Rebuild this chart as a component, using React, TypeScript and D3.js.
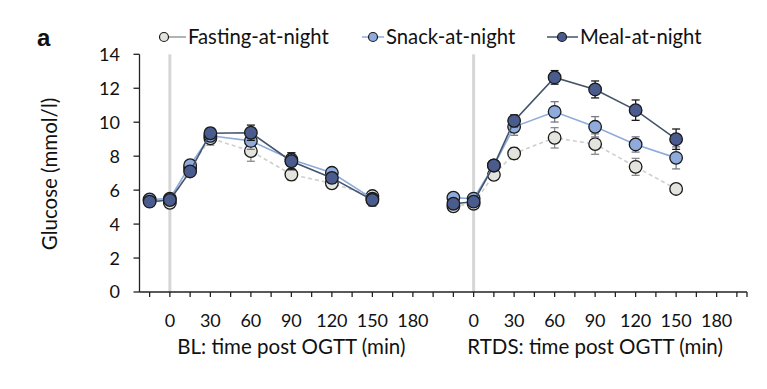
import React from "react";
import * as d3 from "d3";

// ---- data ----
const times = [-15, 0, 15, 30, 60, 90, 120, 150];
const tickLabels = [0, 30, 60, 90, 120, 150, 180];
const yTicks = [0, 2, 4, 6, 8, 10, 12, 14];
const panels = ["BL", "RTDS"];
const panelTitles = ["BL: time post OGTT (min)", "RTDS: time post OGTT (min)"];

const fastingBL = [5.4, 5.25, 7.3, 9.05, 8.3, 6.92, 6.4, 5.65];
const snackBL = [5.45, 5.5, 7.47, 9.2, 8.9, 7.8, 7.02, 5.5];
const mealBL = [5.32, 5.42, 7.1, 9.35, 9.38, 7.7, 6.72, 5.42];
const fastingRT = [5.05, 5.2, 6.9, 8.16, 9.08, 8.71, 7.37, 6.07];
const snackRT = [5.55, 5.5, 7.45, 9.73, 10.61, 9.73, 8.69, 7.9];
const mealRT = [5.2, 5.32, 7.45, 10.08, 12.64, 11.93, 10.71, 9.0];

const fastingBLErr = [0.15, 0.15, 0.25, 0.4, 0.6, 0.35, 0.3, 0.2];
const snackBLErr = [0.15, 0.15, 0.25, 0.35, 0.5, 0.4, 0.3, 0.2];
const mealBLErr = [0.15, 0.15, 0.25, 0.3, 0.45, 0.5, 0.3, 0.35];
const fastingRTErr = [0.15, 0.15, 0.2, 0.35, 0.6, 0.6, 0.5, 0.2];
const snackRTErr = [0.15, 0.15, 0.2, 0.5, 0.6, 0.6, 0.45, 0.65];
const mealRTErr = [0.15, 0.15, 0.2, 0.35, 0.4, 0.5, 0.6, 0.6];

const seriesNames = ["Fasting-at-night", "Snack-at-night", "Meal-at-night"];

// ---- layout / style ----
const W = 767;
const H = 389;
const FONT = "Lato, 'Noto Sans', sans-serif";
const STEP = 15; // minutes per category slot
const panelOffset = [1, 16]; // slot index of time 0 in each panel
const nSlots = 30;

const styles = [
  { fill: "#e4e4df", line: "#cfcfcf", dash: "4,3", err: "#8a8a8a", legendLine: "#9a9a9a" },
  { fill: "#8fabdb", line: "#8fabdb", dash: null, err: "#7a7a88", legendLine: "#8fabdb" },
  { fill: "#4a5b8e", line: "#44546a", dash: null, err: "#1a1a1a", legendLine: "#44546a" },
];

export default function App() {
  const x = d3.scaleLinear().domain([-0.5, nSlots - 0.5]).range([139.5, 747]);
  const y = d3.scaleLinear().domain([0, 14]).range([292, 54.3]);
  const slot = (p: number, t: number) => panelOffset[p] + t / STEP;

  const data = [
    [fastingBL, fastingRT],
    [snackBL, snackRT],
    [mealBL, mealRT],
  ];
  const errs = [
    [fastingBLErr, fastingRTErr],
    [snackBLErr, snackRTErr],
    [mealBLErr, mealRTErr],
  ];

  const line = d3
    .line<[number, number]>()
    .x((d) => d[0])
    .y((d) => d[1]);

  const legendItems = [
    { cx: 164, lx1: 164, lx2: 186, tx: 188 },
    { cx: 373, lx1: 362, lx2: 384, tx: 386 },
    { cx: 562, lx1: 547, lx2: 578, tx: 580 },
  ];

  return (
    <svg width={W} height={H} style={{ display: "block", position: "absolute", left: 0, top: 0 }} fontFamily={FONT}>
      <rect width={W} height={H} fill="#ffffff" />
      {/* panel label */}
      <text x={37} y={46} fontFamily="'Liberation Sans', Arial, sans-serif" fontWeight="bold" fontSize={24} fill="#111">
        a
      </text>

      {/* legend */}
      {seriesNames.map((name, i) => {
        const li = legendItems[i];
        return (
          <g key={name}>
            <line x1={li.lx1} x2={li.lx2} y1={37} y2={37} stroke={styles[i].legendLine} strokeWidth={1.5} />
            <circle cx={li.cx} cy={37} r={4.5} fill={styles[i].fill} stroke="#1a1a1a" strokeWidth={1.2} />
            <text x={li.tx} y={37} dy="0.36em" fontSize={20.3} fill="#111">
              {name}
            </text>
          </g>
        );
      })}

      {/* gray vertical lines at time 0 */}
      {panels.map((p, pi) => (
        <line
          key={p}
          x1={x(slot(pi, 0))}
          x2={x(slot(pi, 0))}
          y1={y(14)}
          y2={y(0)}
          stroke="#d6d6d6"
          strokeWidth={3}
        />
      ))}

      {/* y axis */}
      <line x1={x(-0.5)} x2={x(-0.5)} y1={y(14)} y2={y(0)} stroke="#222" strokeWidth={1.3} />
      {yTicks.map((t) => (
        <g key={t}>
          <line x1={x(-0.5) - 6} x2={x(-0.5)} y1={y(t)} y2={y(t)} stroke="#222" strokeWidth={1.3} />
          <text x={120} y={y(t)} dy="0.36em" textAnchor="end" fontSize={18} fill="#111">
            {t}
          </text>
        </g>
      ))}
      <text transform={`translate(56.5, ${174}) rotate(-90)`} textAnchor="middle" fontSize={20.5} fill="#111">
        Glucose (mmol/l)
      </text>

      {/* x axis */}
      <line x1={x(-0.5)} x2={x(nSlots - 0.5)} y1={y(0)} y2={y(0)} stroke="#222" strokeWidth={1.3} />
      {d3.range(0, nSlots + 1).map((i) => {
        const xi = i === nSlots ? x(nSlots - 0.5) : x(i);
        return <line key={i} x1={xi} x2={xi} y1={y(0)} y2={y(0) + 5} stroke="#222" strokeWidth={1.3} />;
      })}
      {panels.map((p, pi) => (
        <g key={p}>
          {tickLabels.map((t) => (
            <text key={t} x={x(slot(pi, t))} y={326.5} textAnchor="middle" fontSize={18} fill="#111">
              {t}
            </text>
          ))}
          <text
            x={(x(slot(pi, 0)) + x(slot(pi, 180))) / 2}
            y={353.5}
            textAnchor="middle"
            fontSize={20.5}
            fill="#111"
          >
            {panelTitles[pi]}
          </text>
        </g>
      ))}

      {/* series */}
      {data.map((sd, si) => (
        <g key={si}>
          {sd.map((vals, pi) => {
            const pts: [number, number][] = vals.map((v, k) => [x(slot(pi, times[k])), y(v)]);
            return (
              <g key={pi}>
                {vals.map((v, k) => {
                  const e = errs[si][pi][k];
                  const cx = pts[k][0];
                  return (
                    <g key={k} stroke={styles[si].err} strokeWidth={1.3}>
                      <line x1={cx} x2={cx} y1={y(v - e)} y2={y(v + e)} />
                      <line x1={cx - 4} x2={cx + 4} y1={y(v - e)} y2={y(v - e)} />
                      <line x1={cx - 4} x2={cx + 4} y1={y(v + e)} y2={y(v + e)} />
                    </g>
                  );
                })}
                <path
                  d={line(pts) || ""}
                  fill="none"
                  stroke={styles[si].line}
                  strokeWidth={1.6}
                  strokeDasharray={styles[si].dash || undefined}
                />
                {pts.map((pt, k) => (
                  <circle key={k} cx={pt[0]} cy={pt[1]} r={6.3} fill={styles[si].fill} stroke="#1a1a1a" strokeWidth={1.3} />
                ))}
              </g>
            );
          })}
        </g>
      ))}
    </svg>
  );
}
